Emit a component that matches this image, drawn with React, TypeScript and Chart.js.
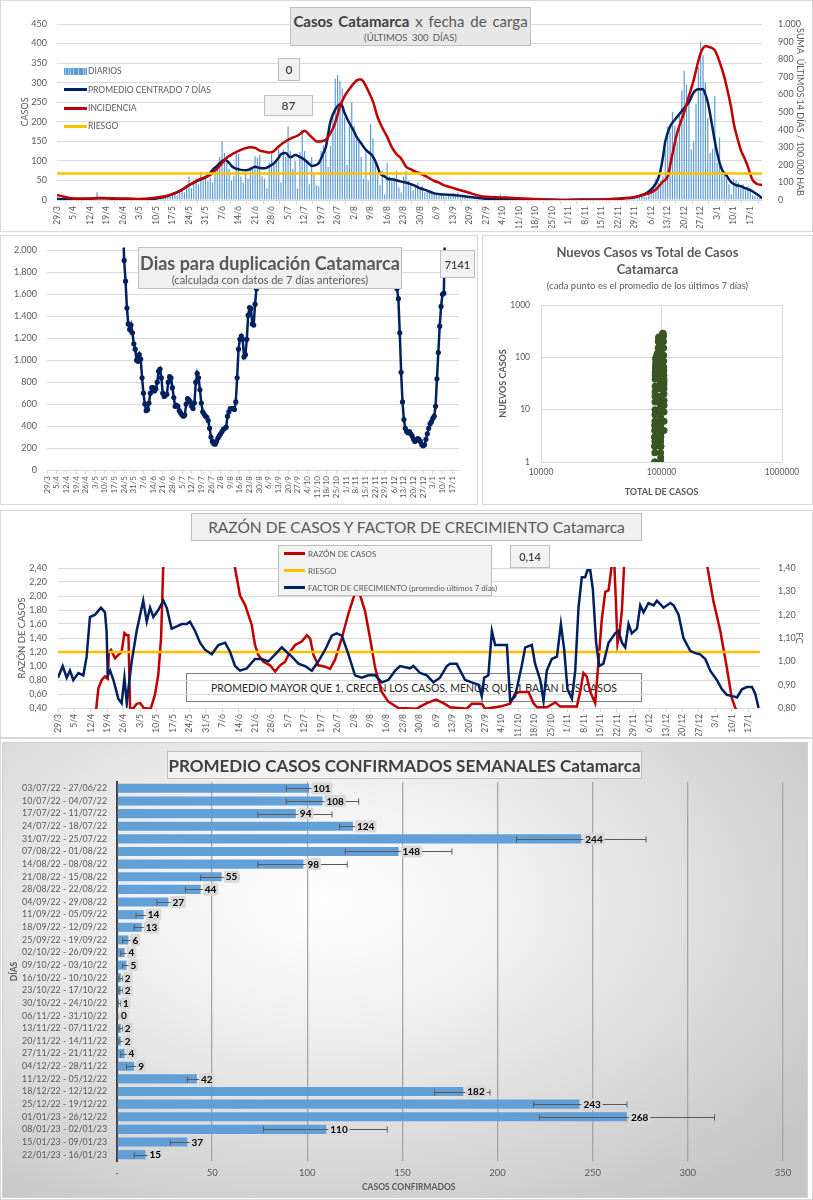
import React, { useEffect, useRef } from "react";
import { Chart, registerables } from "chart.js";

Chart.register(...registerables);

const FONT = "Lato, 'Noto Sans', sans-serif";
const GRAY = "#595959";
const DARK = "#404040";
const GRID = "#d9d9d9";
const NAVY = "#002060";
const RED = "#c00000";
const ORANGE = "#ffc000";
const BLUE = "#5b9bd5";
const GREEN = "#375623";

Chart.defaults.font.family = FONT;
Chart.defaults.color = GRAY;

// ---------------- DATA ----------------
// day 0 = 29/3/2022 ... day 299 = 22/1/2023 ; one tick label every 7 days
const WEEK_TICKS = ["29/3","5/4","12/4","19/4","26/4","3/5","10/5","17/5","24/5","31/5","7/6","14/6","21/6","28/6","5/7","12/7","19/7","26/7","2/8","9/8","16/8","23/8","30/8","6/9","13/9","20/9","27/9","4/10","11/10","18/10","25/10","1/11","8/11","15/11","22/11","29/11","6/12","13/12","20/12","27/12","3/1","10/1","17/1"];

// daily cases (one value per day, 300 days)
const DAILY_CASES = [
  3,5,2,4,1,3,2, 2,4,1,3,5,2,1, 3,6,4,20,2,5,3, 4,2,6,3,1,4,2, 3,1,2,4,0,2,1, 1,0,2,1,3,0,2,
  3,5,8,6,10,12,9, 14,18,12,22,28,20,35, 60,30,45,55,40,72,50, 62,48,58,45,70,85,110,
  150,120,95,80,50,62,120, 118,60,45,70,55,85,78, 112,108,115,60,55,30,95, 118,90,100,130,45,129,110,
  188,125,80,100,30,123,180, 125,95,40,110,70,38,35, 125,140,125,85,138,220,310, 320,305,285,210,90,188,250,
  190,155,150,110,55,126,50, 195,158,105,65,38,75,15, 95,60,50,58,75,32,20, 60,75,50,40,25,38,45,
  30,35,20,25,18,16,20, 15,12,18,10,8,15,12, 18,10,20,14,9,8,8, 5,10,6,4,5,4,4,
  3,6,2,5,4,4,15, 6,3,4,2,3,2,2, 3,1,2,3,1,2,3, 2,1,2,3,2,1,1, 2,0,1,1,1,1,0, 0,1,0,0,1,0,1,
  2,3,2,1,4,1,2, 1,3,2,5,0,1,3, 5,4,8,2,3,3,5, 6,12,8,15,10,7,18, 25,40,55,45,50,61,130,
  188,175,225,190,150,216,280, 330,295,270,130,150,246,340, 405,370,300,210,120,131,265,
  95,160,85,70,55,40,15, 55,50,45,30,40,24,35, 30,12,10,8,6,4
];

// centred 7-day average [day, cases]
const AVG7 = [[0,3],[3,2],[6,2],[10,2],[14,3],[17,5],[20,5],[24,3],[28,2],[32,1],[36,1],[39,2],[42,4],[45,7],[48,13],[51,20],[54,30],[56,38],[58,44],[60,50],[62,55],[64,62],[66,77],[68,88],[69,94],[71,103],[73,95],[74,87],[76,80],[78,77],[80,76],[82,79],[84,85],[86,82],[88,81],[90,86],[92,94],[94,108],[95,117],[97,120],[99,109],[101,115],[103,110],[105,103],[107,92],[108,87],[110,90],[111,94],[113,120],[114,135],[116,201],[118,231],[120,244],[121,240],[122,222],[124,197],[126,175],[127,162],[129,145],[131,128],[133,118],[134,111],[136,85],[137,68],[139,60],[140,55],[143,52],[146,47],[149,43],[152,36],[154,30],[157,24],[160,17],[164,14],[168,13],[172,10],[175,8],[179,5],[182,3],[186,2],[189,2],[195,2],[200,1],[207,1],[215,0],[222,1],[230,1],[237,3],[241,5],[244,6],[248,12],[251,22],[253,34],[255,55],[256,77],[257,110],[258,150],[260,188],[262,205],[264,220],[266,235],[268,250],[270,275],[272,283],[274,283],[275,270],[276,250],[277,220],[278,185],[279,150],[280,120],[281,95],[282,78],[284,62],[286,45],[288,38],[290,35],[292,30],[294,25],[296,18],[298,10],[299,4]];

// 14-day incidence per 100.000 [day, value] (right axis)
const INCIDENCE = [[0,28],[3,19],[6,10],[10,9],[15,9],[20,10],[25,9],[30,8],[35,6],[40,10],[44,18],[48,28],[52,50],[56,85],[60,115],[65,142],[68,180],[70,209],[72,240],[74,258],[76,272],[78,285],[80,295],[82,300],[84,296],[86,281],[88,275],[90,270],[92,278],[94,304],[96,325],[98,342],[100,355],[102,365],[104,385],[105,393],[106,385],[107,370],[109,345],[110,332],[112,333],[114,342],[116,380],[118,440],[120,530],[122,590],[124,630],[126,665],[128,684],[129,684],[130,672],[132,620],[134,560],[136,470],[138,410],[140,360],[142,300],[144,260],[146,235],[148,190],[150,175],[152,161],[154,152],[156,138],[158,123],[160,108],[162,99],[164,85],[167,72],[170,60],[173,48],[176,36],[179,25],[182,18],[186,15],[190,14],[194,12],[198,8],[202,6],[206,3],[210,1],[220,0],[230,2],[236,5],[240,9],[244,15],[248,28],[251,38],[254,60],[257,105],[259,135],[261,260],[263,380],[266,500],[268,590],[270,680],[272,790],[273,835],[275,873],[277,868],[279,850],[281,785],[283,700],[284,645],[286,520],[287,436],[289,330],[290,285],[292,225],[293,190],[295,114],[297,91],[299,85]];
const RISK_INCIDENCE = 150;
const TOP_BOX_A = "0";
const TOP_BOX_B = "87";

// days for doubling (two visible stretches)
const DUP1_START = 55;
const DUP1 = [2300,1909,1720,1475,1330,1280,1320,1250,1150,1100,1000,990,1050,1010,840,700,600,540,550,610,700,750,750,720,740,800,900,920,840,700,670,680,690,800,850,840,750,660,580,590,580,540,520,500,490,500,600,650,640,620,580,560,610,800,880,840,730,610,530,510,490,480,450,380,300,260,240,235,260,290,310,330,350,370,380,390,490,530,560,560,560,550,620,840,1100,1190,1220,1190,1030,1050,1190,1410,1480,1470,1330,1320,1510,1650,2300];
const DUP2_START = 253;
const DUP2 = [2300,1650,1560,1250,890,620,460,380,350,340,350,330,310,280,260,270,285,280,260,230,220,230,280,330,380,420,440,470,490,580,830,1070,1310,1490,1600,1610,2300];
const DUP_LAST = "7141";

// new cases (7-day mean) vs total cases [total, new]
const SCATTER = [[88000,1],[88010,3],[88020,2],[88035,4],[88050,1.5],[88065,3],[88080,2],[88095,5],[88110,2.5],[88125,1],[88140,3],[88160,2],[88180,4],[88200,6],[88220,3],[88240,2],[88260,5],[88280,8],[88300,10],[88330,14],[88380,18],[88450,22],[88550,28],[88650,38],[88750,45],[88900,52],[89050,58],[89250,65],[89450,72],[89650,85],[89850,96],[90050,100],[90250,92],[90450,80],[90650,75],[90850,78],[91050,84],[91300,82],[91550,90],[91800,105],[92050,115],[92300,118],[92550,112],[92800,105],[93050,95],[93300,90],[93550,110],[93850,150],[94200,200],[94600,235],[95000,244],[95400,225],[95800,190],[96150,160],[96450,135],[96700,115],[96950,100],[97150,80],[97300,65],[97420,57],[97530,52],[97640,48],[97750,44],[97850,38],[97940,32],[98020,25],[98080,18],[98130,15],[98170,14],[98210,13],[98250,11],[98290,9],[98320,7],[98340,6],[98360,5],[98375,4],[98390,3.5],[98400,3],[98410,2.5],[98420,2],[98430,3],[98440,1.5],[98450,2],[98460,1],[98470,1.2],[98480,2],[98490,1],[98500,3],[98510,2],[98520,4],[98530,5],[98545,7],[98560,9],[98590,12],[98640,18],[98700,25],[98780,35],[98870,45],[98980,60],[99150,90],[99350,130],[99600,170],[99850,190],[100100,200],[100400,215],[100700,225],[101000,240],[101300,250],[101600,265],[101900,275],[102250,283],[102600,287],[102950,285],[103300,275],[103600,250],[103850,200],[104050,150],[104200,110],[104320,85],[104420,65],[104500,55],[104580,45],[104650,38],[104710,34],[104760,30],[104800,25],[104830,20],[104855,15],[104870,12],[104880,9],[104890,6],[104895,4]];

// case ratio [day, ratio] (left axis) and growth factor [day, fc] (right axis)
const RATIO = [[16,0.3],[17.2,0.68],[18.6,0.8],[20,0.85],[21.2,0.82],[21.7,1.2],[22.6,1.23],[24.3,1.11],[25.7,1.16],[27.1,1.2],[28.3,1.47],[29.3,1.44],[30,1.44],[30.7,0.4],[32,0.39],[33.5,0.46],[35,0.47],[36.5,0.4],[39.5,0.39],[41.3,0.59],[42.7,0.87],[43.9,1.4],[44.9,2.5],[46,3.5],[74,3.5],[75.4,2.4],[77.5,2.01],[79.7,1.87],[82.5,1.59],[83.9,1.3],[85.3,1.16],[87.5,1.06],[90.3,1.01],[92.5,0.92],[94.6,1.01],[96.7,1.06],[98.8,1.2],[101,1.3],[103.8,1.35],[106,1.44],[107.4,1.39],[108.8,1.16],[110.9,1.01],[113.8,0.99],[115.9,0.96],[118,1.09],[120.9,1.4],[123.7,1.75],[125.8,1.97],[127.3,2.09],[128.7,2.01],[130.8,1.78],[132.9,1.4],[135.1,0.97],[137.9,0.63],[140.7,0.49],[145,0.4],[152.8,0.39],[154.2,0.42],[157.1,0.47],[161,0.52],[164.2,0.47],[167,0.41],[174.1,0.39],[176.2,0.46],[180.5,0.46],[181.9,0.39],[188.3,0.42],[192.6,0.46],[194.7,0.61],[196.8,0.63],[200.4,0.63],[202.5,0.47],[204,0.41],[208.2,0.41],[211.8,0.48],[213.9,0.42],[221,0.42],[222.4,0.63],[223.8,0.9],[225.2,0.85],[226.7,0.63],[228.8,0.47],[230.2,1.06],[231.6,1.66],[233.1,2.06],[234.5,2.08],[235.9,2.45],[236.9,2.5],[237.6,1.94],[238.3,1.32],[239.2,1.47],[240.2,1.8],[241.2,2.5],[242.5,3.5],[275.5,3.5],[276.4,2.45],[279.2,1.92],[282.1,1.5],[284.9,0.97],[287,0.54],[288.5,0.4],[290,0.3]];
const FC = [[0,0.93],[2,0.98],[3.7,0.93],[5.1,0.96],[6.5,0.92],[8.7,0.95],[10.8,0.94],[12.2,1.02],[13.6,1.19],[15.8,1.2],[18.3,1.23],[20,1.21],[20.7,1.13],[21.2,0.94],[22.2,0.96],[23.6,0.92],[25.7,0.84],[27.1,0.82],[28.3,0.93],[29.3,0.82],[30.3,0.91],[31.4,1.0],[33.5,1.13],[35,1.2],[36.3,1.26],[37.8,1.17],[39.2,1.23],[40.6,1.19],[42.7,1.22],[44.9,1.26],[46.3,1.23],[48.4,1.14],[50.6,1.15],[52.7,1.16],[54.8,1.16],[56.2,1.17],[58.4,1.13],[60.5,1.08],[62.6,1.05],[65.5,1.03],[68.3,1.07],[71.2,1.08],[73.3,1.04],[75.4,0.98],[77.5,0.96],[80.4,0.97],[83.9,1.01],[86.8,1.01],[89.6,1.0],[92.5,1.03],[95.3,1.06],[97.4,1.04],[99.6,1.02],[102.4,0.99],[105.2,0.98],[108.1,0.96],[110.9,1.0],[113.8,1.05],[116.6,1.11],[118.7,1.12],[120.9,1.11],[123.7,1.03],[126.5,0.94],[129.4,0.93],[132.2,0.94],[135.1,0.94],[137.9,0.91],[140.7,0.92],[143.6,0.96],[145.7,0.98],[150,0.97],[151.4,0.98],[154.2,0.95],[157.1,0.94],[159.9,0.91],[162.7,0.93],[165.6,0.98],[167,0.99],[169.8,0.99],[171.3,0.96],[173.4,0.92],[176.2,0.91],[179.1,0.9],[180.5,0.85],[181.5,0.93],[183.3,0.94],[184.8,1.13],[186.2,1.07],[191.2,1.07],[192.6,0.83],[194.7,0.85],[197.5,0.98],[199,1.06],[201.8,1.07],[203.2,0.99],[205.4,0.92],[206.8,0.83],[208.2,0.96],[210.3,1.01],[212.5,1.02],[214.2,1.16],[215.6,1.05],[217,0.88],[218.9,0.84],[220.3,0.96],[221.7,1.23],[223.1,1.36],[224.5,1.36],[225.5,1.39],[226.7,1.39],[227.8,1.31],[229.2,1.08],[230.5,0.98],[232.3,0.99],[234.5,1.08],[237.3,1.12],[238.7,1.13],[240.2,1.08],[241.6,1.06],[243,1.16],[244.4,1.12],[246.6,1.14],[248,1.24],[249.4,1.21],[251.5,1.25],[253.7,1.24],[255.1,1.26],[257.9,1.23],[260.8,1.25],[262.2,1.24],[264.3,1.2],[266.4,1.1],[269.3,1.045],[271.4,1.035],[273.5,1.03],[275.7,1.01],[277.8,0.96],[280.6,0.92],[282.8,0.88],[284.9,0.856],[287.7,0.85],[289.2,0.845],[291.3,0.88],[293.4,0.89],[295.6,0.89],[297,0.86],[298.4,0.8]];
const RISK_RATIO = 1.2;
const RATIO_LAST = "0,14";

// weekly averages with min / max whiskers
const WEEK_RANGES = ["03/07/22 - 27/06/22","10/07/22 - 04/07/22","17/07/22 - 11/07/22","24/07/22 - 18/07/22","31/07/22 - 25/07/22","07/08/22 - 01/08/22","14/08/22 - 08/08/22","21/08/22 - 15/08/22","28/08/22 - 22/08/22","04/09/22 - 29/08/22","11/09/22 - 05/09/22","18/09/22 - 12/09/22","25/09/22 - 19/09/22","02/10/22 - 26/09/22","09/10/22 - 03/10/22","16/10/22 - 10/10/22","23/10/22 - 17/10/22","30/10/22 - 24/10/22","06/11/22 - 31/10/22","13/11/22 - 07/11/22","20/11/22 - 14/11/22","27/11/22 - 21/11/22","04/12/22 - 28/11/22","11/12/22 - 05/12/22","18/12/22 - 12/12/22","25/12/22 - 19/12/22","01/01/23 - 26/12/22","08/01/23 - 02/01/23","15/01/23 - 09/01/23","22/01/23 - 16/01/23"];
const WEEK_AVG = [101,108,94,124,244,148,98,55,44,27,14,13,6,4,5,2,2,1,0,2,2,4,9,42,182,243,268,110,37,15];
const WEEK_LOW = [89,89,74,117,210,120,74,44,36,21,10,9,3,2,3,1,1,0.5,0,1,1,2,5,37,167,219,222,77,28,9];
const WEEK_HIGH = [112,127,113,131,278,176,121,64,48,33,17,17,8,6,7,3,3,2,0.5,3,4,7,13,48,196,268,314,142,45,18];

// ---------------- helpers ----------------
const fmtThousands = (v: number) => String(Math.round(v)).replace(/\B(?=(\d{3})+(?!\d))/g, ".");
const fmtComma = (v: number) => Number(v).toFixed(2).replace(".", ",");
const pts = (arr: number[][]) => arr.map(([x, y]) => ({ x, y }));

function weekAxis(fontSize: number, height: number) {
  return {
    type: "linear",
    min: 0,
    max: 299,
    offset: false,
    afterBuildTicks: (s: any) => {
      s.ticks = WEEK_TICKS.map((_, i) => ({ value: i * 7 }));
    },
    afterFit: (s: any) => {
      s.height = height;
    },
    ticks: {
      autoSkip: false,
      maxRotation: 90,
      minRotation: 90,
      padding: 2,
      color: GRAY,
      font: { size: fontSize },
      callback: (_v: any, i: number) => WEEK_TICKS[i],
    },
    grid: { drawOnChartArea: false, color: GRID, tickLength: 4 },
    border: { color: GRID },
  };
}

function ChartBox({ w, h, make }: { w: number; h: number; make: () => any }) {
  const ref = useRef<HTMLCanvasElement | null>(null);
  useEffect(() => {
    if (!ref.current) return;
    const chart = new Chart(ref.current, make());
    return () => chart.destroy();
  }, []);
  return (
    <canvas
      ref={ref}
      width={w}
      height={h}
      style={{ position: "absolute", left: 0, top: 0, width: w, height: h }}
    />
  );
}

const panel = (x: number, y: number, w: number, h: number, extra: any = {}) => ({
  position: "absolute" as const,
  left: x,
  top: y,
  width: w,
  height: h,
  outline: "1px solid #d9d9d9",
  outlineOffset: -1,
  background: "#fff",
  ...extra,
});

const abs = (x: number, y: number, extra: any = {}) => ({
  position: "absolute" as const,
  left: x,
  top: y,
  whiteSpace: "nowrap" as const,
  ...extra,
});

const valueBox = (x: number, y: number, w: number, h: number, size: number) => ({
  position: "absolute" as const,
  left: x,
  top: y,
  width: w,
  height: h,
  boxSizing: "border-box" as const,
  background: "#f2f2f2",
  border: "1px solid #bfbfbf",
  color: DARK,
  fontSize: size,
  fontWeight: 600,
  display: "flex",
  alignItems: "center",
  justifyContent: "center",
  whiteSpace: "nowrap" as const,
});

// ---------------- Panel 1 ----------------
function Panel1() {
  const make = () => ({
    type: "bar",
    data: {
      datasets: [
        { type: "line", data: [{ x: 0, y: RISK_INCIDENCE }, { x: 299, y: RISK_INCIDENCE }], yAxisID: "y2", borderColor: ORANGE, borderWidth: 2.5, pointRadius: 0, order: 0 },
        { type: "line", data: pts(INCIDENCE), yAxisID: "y2", borderColor: RED, borderWidth: 2.5, pointRadius: 0, cubicInterpolationMode: "monotone", order: 1 },
        { type: "line", data: pts(AVG7), yAxisID: "y", borderColor: NAVY, borderWidth: 2.5, pointRadius: 0, cubicInterpolationMode: "monotone", order: 2 },
        { type: "bar", data: DAILY_CASES.map((v, i) => ({ x: i, y: v })), yAxisID: "y", backgroundColor: BLUE, barPercentage: 0.5, categoryPercentage: 1, order: 10 },
      ],
    },
    options: {
      responsive: false,
      animation: false,
      layout: { padding: { left: 16, right: 4, top: 24, bottom: 4 } },
      plugins: { legend: { display: false }, tooltip: { enabled: false } },
      scales: {
        x: weekAxis(8.5, 28),
        y: {
          min: 0, max: 450,
          ticks: { stepSize: 50, color: GRAY, font: { size: 9 }, padding: 10 },
          grid: { color: GRID, drawTicks: false },
          border: { display: false },
          title: { display: true, text: "CASOS", color: GRAY, font: { size: 9 }, padding: 4 },
          afterFit: (s: any) => { s.width = 41; },
        },
        y2: {
          position: "right",
          min: 0, max: 1000,
          ticks: { stepSize: 100, color: GRAY, font: { size: 9 }, padding: 8, callback: (v: any) => fmtThousands(v) },
          grid: { display: false },
          border: { display: false },
          title: { display: true, text: "SUMA  ÚLTIMOS 14 DÍAS / 100.000 HAB", color: GRAY, font: { size: 9 }, padding: 4 },
          afterFit: (s: any) => { s.width = 47; },
        },
      },
    },
  });
  const legendText = { fontSize: 8.5, color: GRAY, lineHeight: "12px" };
  return (
    <div style={panel(0, 0, 813, 232)}>
      <ChartBox w={813} h={232} make={make} />
      <div style={{ ...valueBox(290, 7, 241, 39, 15), display: "block", background: "#e7e7e7", fontWeight: 400 }}>
        <div style={{ position: "absolute", left: 0, right: 0, top: 4, textAlign: "center", fontSize: 15, lineHeight: "19px", color: GRAY, wordSpacing: 2, whiteSpace: "nowrap" }}>
          <b style={{ color: DARK }}>Casos Catamarca</b> x fecha de carga
        </div>
        <div style={{ position: "absolute", left: 0, right: 0, top: 24, textAlign: "center", fontSize: 9.5, lineHeight: "12px", color: GRAY, wordSpacing: 2, whiteSpace: "nowrap" }}>
          (ÚLTIMOS 300 DÍAS)
        </div>
      </div>
      <div style={abs(64, 68, { width: 23, height: 7, background: "repeating-linear-gradient(90deg, #5b9bd5 0 1.5px, #a9c9ea 1.5px 2.5px)" })} />
      <div style={abs(88, 65, legendText)}>DIARIOS</div>
      <div style={abs(64, 88, { width: 23, height: 3, background: NAVY })} />
      <div style={abs(88, 83.5, legendText)}>PROMEDIO CENTRADO 7 DÍAS</div>
      <div style={abs(64, 106.5, { width: 23, height: 3, background: RED })} />
      <div style={abs(88, 102, legendText)}>INCIDENCIA</div>
      <div style={abs(64, 124.5, { width: 23, height: 3, background: ORANGE })} />
      <div style={abs(88, 120, legendText)}>RIESGO</div>
      <div style={valueBox(278, 58, 22, 23, 12)}>{TOP_BOX_A}</div>
      <div style={valueBox(264, 95, 49, 21, 12)}>{TOP_BOX_B}</div>
    </div>
  );
}

// ---------------- Panel 2 ----------------
function Panel2() {
  const make = () => ({
    type: "line",
    data: {
      datasets: [
        {
          data: [
            ...DUP1.map((v, i) => ({ x: DUP1_START + i, y: v })),
            { x: 200, y: null },
            ...DUP2.map((v, i) => ({ x: DUP2_START + i, y: v })),
          ],
          borderColor: NAVY,
          backgroundColor: NAVY,
          borderWidth: 2.5,
          pointRadius: 2.6,
          pointBackgroundColor: NAVY,
          pointBorderColor: NAVY,
          pointBorderWidth: 0,
          clip: 3,
        },
      ],
    },
    options: {
      responsive: false,
      animation: false,
      layout: { padding: { left: 4, right: 19, top: 14, bottom: 4 } },
      plugins: { legend: { display: false }, tooltip: { enabled: false } },
      scales: {
        x: weekAxis(8, 31),
        y: {
          min: 0, max: 2000,
          ticks: { stepSize: 200, color: GRAY, font: { size: 9 }, padding: 10, callback: (v: any) => fmtThousands(v) },
          grid: { color: GRID, drawTicks: false },
          border: { display: false },
          afterFit: (s: any) => { s.width = 43; },
        },
      },
    },
  });
  return (
    <div style={panel(0, 235, 478, 270)}>
      <ChartBox w={478} h={270} make={make} />
      <div style={{ ...valueBox(138, 12, 264, 42, 18), display: "block", background: "#f0f0f0", fontWeight: 400 }}>
        <div style={{ position: "absolute", left: 0, right: 0, top: 4, textAlign: "center", fontSize: 18, fontWeight: 700, lineHeight: "22px", color: GRAY, whiteSpace: "nowrap" }}>
          Dias para duplicación Catamarca
        </div>
        <div style={{ position: "absolute", left: 0, right: 0, top: 25, textAlign: "center", fontSize: 11, lineHeight: "14px", color: GRAY, whiteSpace: "nowrap" }}>
          (calculada con datos de 7 días anteriores)
        </div>
      </div>
      <div style={valueBox(440, 15, 35, 28, 11)}>{DUP_LAST}</div>
    </div>
  );
}

// ---------------- Panel 3 ----------------
function Panel3() {
  const make = () => ({
    type: "scatter",
    data: {
      datasets: [
        { data: pts(SCATTER), pointRadius: 3.5, pointBackgroundColor: GREEN, pointBorderColor: GREEN, pointBorderWidth: 0 },
      ],
    },
    options: {
      responsive: false,
      animation: false,
      layout: { padding: { left: 12, right: 31, top: 70, bottom: 4 } },
      plugins: { legend: { display: false }, tooltip: { enabled: false } },
      scales: {
        x: {
          type: "logarithmic", min: 10000, max: 1000000,
          afterBuildTicks: (s: any) => { s.ticks = [10000, 100000, 1000000].map((value) => ({ value })); },
          ticks: { color: GRAY, font: { size: 8.5 }, maxRotation: 0, padding: 5, callback: (v: any) => String(v) },
          grid: { color: GRID, drawTicks: false },
          border: { display: false },
          title: { display: true, text: "TOTAL DE CASOS", color: GRAY, font: { size: 9, weight: "bold" }, padding: 4 },
          afterFit: (s: any) => { s.height = 39; },
        },
        y: {
          type: "logarithmic", min: 1, max: 1000,
          afterBuildTicks: (s: any) => { s.ticks = [1, 10, 100, 1000].map((value) => ({ value })); },
          ticks: { color: GRAY, font: { size: 8.5 }, padding: 11, callback: (v: any) => String(v) },
          grid: { color: GRID, drawTicks: false },
          border: { display: false },
          title: { display: true, text: "NUEVOS CASOS", color: GRAY, font: { size: 9, weight: "bold" }, padding: 4 },
          afterFit: (s: any) => { s.width = 47; },
        },
      },
    },
  });
  return (
    <div style={panel(482, 235, 331, 270)}>
      <ChartBox w={331} h={270} make={make} />
      <div style={{ position: "absolute", left: 0, right: 0, top: 9, textAlign: "center", fontSize: 13, fontWeight: 700, lineHeight: "17px", color: GRAY }}>
        Nuevos Casos vs Total de Casos
        <br />
        Catamarca
      </div>
      <div style={{ position: "absolute", left: 0, right: 0, top: 45, textAlign: "center", fontSize: 9.5, lineHeight: "12px", color: GRAY }}>
        (cada punto es el promedio de los últimos 7 días)
      </div>
    </div>
  );
}

// ---------------- Panel 4 ----------------
function Panel4() {
  const make = () => ({
    type: "line",
    data: {
      datasets: [
        { data: pts(FC), yAxisID: "y2", borderColor: NAVY, borderWidth: 2.5, pointRadius: 0, order: 0 },
        { data: [{ x: 0, y: RISK_RATIO }, { x: 299, y: RISK_RATIO }], yAxisID: "y", borderColor: ORANGE, borderWidth: 2.5, pointRadius: 0, order: 1 },
        { data: pts(RATIO), yAxisID: "y", borderColor: RED, borderWidth: 2.5, pointRadius: 0, order: 2, clip: 1 },
      ],
    },
    options: {
      responsive: false,
      animation: false,
      layout: { padding: { left: 12, right: 4, top: 58, bottom: 2 } },
      plugins: { legend: { display: false }, tooltip: { enabled: false } },
      scales: {
        x: weekAxis(8.5, 28),
        y: {
          min: 0.4, max: 2.4,
          ticks: { stepSize: 0.2, color: GRAY, font: { size: 9 }, padding: 11, callback: (v: any) => fmtComma(v) },
          grid: { color: GRID, drawTicks: false },
          border: { display: false },
          title: { display: true, text: "RAZÓN DE CASOS", color: GRAY, font: { size: 9.5 }, padding: 4 },
          afterFit: (s: any) => { s.width = 46; },
        },
        y2: {
          position: "right",
          min: 0.8, max: 1.4,
          ticks: { stepSize: 0.1, color: GRAY, font: { size: 9 }, padding: 10, callback: (v: any) => fmtComma(v) },
          grid: { display: false },
          border: { display: false },
          title: { display: true, text: "FC", color: GRAY, font: { size: 9.5 }, padding: 4 },
          afterFit: (s: any) => { s.width = 49; },
        },
      },
    },
  });
  const lt = { fontSize: 8, color: GRAY, lineHeight: "10px" };
  return (
    <div style={panel(0, 510, 813, 228)}>
      <div style={{ position: "absolute", left: 186, top: 163, width: 456, height: 29, boxSizing: "border-box", border: "1px solid #7f7f7f", display: "flex", alignItems: "center", justifyContent: "center", fontSize: 10.5, color: "#262626", whiteSpace: "nowrap" }}>
        PROMEDIO MAYOR QUE 1, CRECEN LOS CASOS, MENOR QUE 1 BAJAN LOS CASOS
      </div>
      <ChartBox w={813} h={228} make={make} />
      <div style={{ ...valueBox(191, 3, 451, 28, 15.5), background: "#f0f0f0", fontWeight: 400, color: GRAY }}>
        RAZÓN DE CASOS Y FACTOR DE CRECIMIENTO Catamarca
      </div>
      <div style={{ position: "absolute", left: 278, top: 35, width: 214, height: 51, boxSizing: "border-box", background: "#f2f2f2", border: "1px solid #bfbfbf" }} />
      <div style={abs(284, 42, { width: 21, height: 3, background: RED })} />
      <div style={abs(308, 38.5, lt)}>RAZÓN DE CASOS</div>
      <div style={abs(284, 59, { width: 21, height: 3, background: ORANGE })} />
      <div style={abs(308, 55.5, lt)}>RIESGO</div>
      <div style={abs(284, 76, { width: 21, height: 3, background: NAVY })} />
      <div style={abs(308, 72.5, lt)}>FACTOR DE CRECIMIENTO (promedio últimos 7 días)</div>
      <div style={valueBox(510, 35, 40, 23, 11)}>{RATIO_LAST}</div>
    </div>
  );
}

// ---------------- Panel 5 ----------------
const errorBarsPlugin = {
  id: "errbars",
  afterDatasetsDraw(chart: any) {
    const ctx = chart.ctx;
    const meta = chart.getDatasetMeta(0);
    const xs = chart.scales.x;
    ctx.save();
    ctx.strokeStyle = "#595959";
    ctx.lineWidth = 1;
    meta.data.forEach((bar: any, i: number) => {
      const y = Math.round(bar.y) + 0.5;
      const x1 = xs.getPixelForValue(WEEK_LOW[i]);
      const x2 = xs.getPixelForValue(WEEK_HIGH[i]);
      ctx.beginPath();
      ctx.moveTo(x1, y);
      ctx.lineTo(x2, y);
      ctx.moveTo(x1, y - 3);
      ctx.lineTo(x1, y + 3);
      ctx.moveTo(x2, y - 3);
      ctx.lineTo(x2, y + 3);
      ctx.stroke();
    });
    ctx.font = `bold 10px ${FONT}`;
    ctx.textBaseline = "middle";
    meta.data.forEach((bar: any, i: number) => {
      const txt = String(WEEK_AVG[i]);
      const w = ctx.measureText(txt).width;
      const x = bar.x + 3;
      ctx.fillStyle = "rgba(215,215,215,0.95)";
      ctx.beginPath();
      if ((ctx as any).roundRect) (ctx as any).roundRect(x - 1, bar.y - 6, w + 4, 12, 2);
      else ctx.rect(x - 1, bar.y - 6, w + 4, 12);
      ctx.fill();
      ctx.fillStyle = "#000";
      ctx.fillText(txt, x + 1, bar.y + 0.5);
    });
    ctx.restore();
  },
};

function Panel5() {
  const make = () => ({
    type: "bar",
    data: {
      labels: WEEK_RANGES,
      datasets: [
        { data: WEEK_AVG, backgroundColor: "rgba(91,155,213,0.95)", barPercentage: 0.72, categoryPercentage: 1 },
      ],
    },
    options: {
      indexAxis: "y",
      responsive: false,
      animation: false,
      layout: { padding: { left: 4, right: 24, top: 39, bottom: 0 } },
      plugins: { legend: { display: false }, tooltip: { enabled: false } },
      scales: {
        x: {
          min: 0, max: 350,
          ticks: { stepSize: 50, color: GRAY, font: { size: 9.5 }, padding: 6, maxRotation: 0, callback: (v: any) => (v === 0 ? "-" : String(v)) },
          grid: { color: "#a6a6a6", lineWidth: 1.3, drawTicks: false },
          border: { display: false },
          afterFit: (s: any) => { s.height = 36; },
        },
        y: {
          ticks: { color: GRAY, font: { size: 8.8 }, padding: 10, autoSkip: false },
          grid: { display: false, drawTicks: false },
          border: { color: "#404040", width: 2 },
          title: { display: true, text: "DÍAS", color: GRAY, font: { size: 8.5, weight: "bold" }, padding: 2 },
          afterFit: (s: any) => { s.width = 110; },
        },
      },
    },
    plugins: [errorBarsPlugin],
  });
  return (
    <div style={panel(0, 738, 813, 462)}>
      <div style={{ position: "absolute", left: 3, top: 5, width: 804, height: 454, background: "radial-gradient(ellipse 75% 80% at 40% 35%, #ffffff 0%, #efefef 35%, #d6d6d6 75%, #c6c6c6 100%)", outline: "1px solid #d0d0d0" }}>
        <ChartBox w={804} h={454} make={make} />
        <div style={{ ...valueBox(164, 8, 475, 28, 17), background: "rgba(242,242,242,0.9)", fontWeight: 700, color: DARK }}>
          PROMEDIO CASOS CONFIRMADOS SEMANALES Catamarca
        </div>
        <div style={abs(359, 439, { fontSize: 8.5, fontWeight: 700, color: GRAY, lineHeight: "11px" })}>CASOS CONFIRMADOS</div>
      </div>
    </div>
  );
}

export default function App() {
  return (
    <div style={{ position: "absolute", left: 0, top: 0, width: 813, height: 1200, background: "#fff", fontFamily: FONT, overflow: "hidden" }}>
      <Panel1 />
      <Panel2 />
      <Panel3 />
      <Panel4 />
      <Panel5 />
    </div>
  );
}
